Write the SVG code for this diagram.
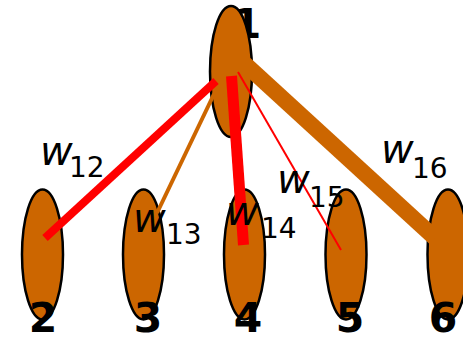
<svg xmlns="http://www.w3.org/2000/svg" width="463" height="339" viewBox="0 0 463 339">
<style>
.node{fill:#CC6600;stroke:#000;stroke-width:2.5}
.num{font-family:"DejaVu Sans",Verdana,sans-serif;font-weight:bold;font-size:41px;fill:#000;text-anchor:middle}
.w{font-family:"DejaVu Sans",Verdana,sans-serif;font-style:italic;font-size:40px;fill:#000}
.sub{font-family:"DejaVu Sans",Verdana,sans-serif;font-size:28px;fill:#000}
.red{stroke:#FF0000;fill:none}
.org{stroke:#CC6600;fill:none}
</style>
<rect width="463" height="339" fill="#fff"/>
<g id="node1">
<text class="num" x="247" y="38">1</text>
<ellipse class="node" cx="231" cy="71.5" rx="21" ry="65.5"/>
</g>
<g id="node2"><ellipse class="node" cx="42.5" cy="254.5" rx="20.5" ry="65"/></g>
<g id="node3"><ellipse class="node" cx="143.5" cy="254.5" rx="20.5" ry="65"/></g>
<g id="node4"><ellipse class="node" cx="244.5" cy="254.5" rx="20.5" ry="65"/></g>
<g id="node5"><ellipse class="node" cx="346" cy="254.5" rx="20.5" ry="65"/></g>
<g id="node6"><ellipse class="node" cx="448" cy="254.5" rx="20.5" ry="65"/></g>
<g id="connectors">
<line class="red" x1="216" y1="81" x2="45" y2="238" stroke-width="8"/>
<line class="org" x1="215" y1="92" x2="157" y2="213" stroke-width="4"/>
<line class="red" x1="231.5" y1="76" x2="243.5" y2="245" stroke-width="11"/>
<line class="red" x1="238" y1="72" x2="341" y2="250" stroke-width="2"/>
<line class="org" x1="245" y1="64" x2="435" y2="238" stroke-width="16"/>
</g>
<g id="labels">
<text class="w" x="40" y="165">w</text><text class="sub" x="69" y="177">12</text>
<text class="w" x="133" y="232">w</text><text class="sub" x="166" y="244">13</text>
<text class="w" x="226" y="225">w</text><text class="sub" x="261" y="238">14</text>
<text class="w" x="277" y="193">w</text><text class="sub" x="309" y="207">15</text>
<text class="w" x="381" y="163">w</text><text class="sub" x="412" y="178">16</text>
<text class="num" x="43" y="332">2</text>
<text class="num" x="148" y="332">3</text>
<text class="num" x="248" y="332">4</text>
<text class="num" x="350" y="332">5</text>
<text class="num" x="443" y="332">6</text>
</g>
</svg>
